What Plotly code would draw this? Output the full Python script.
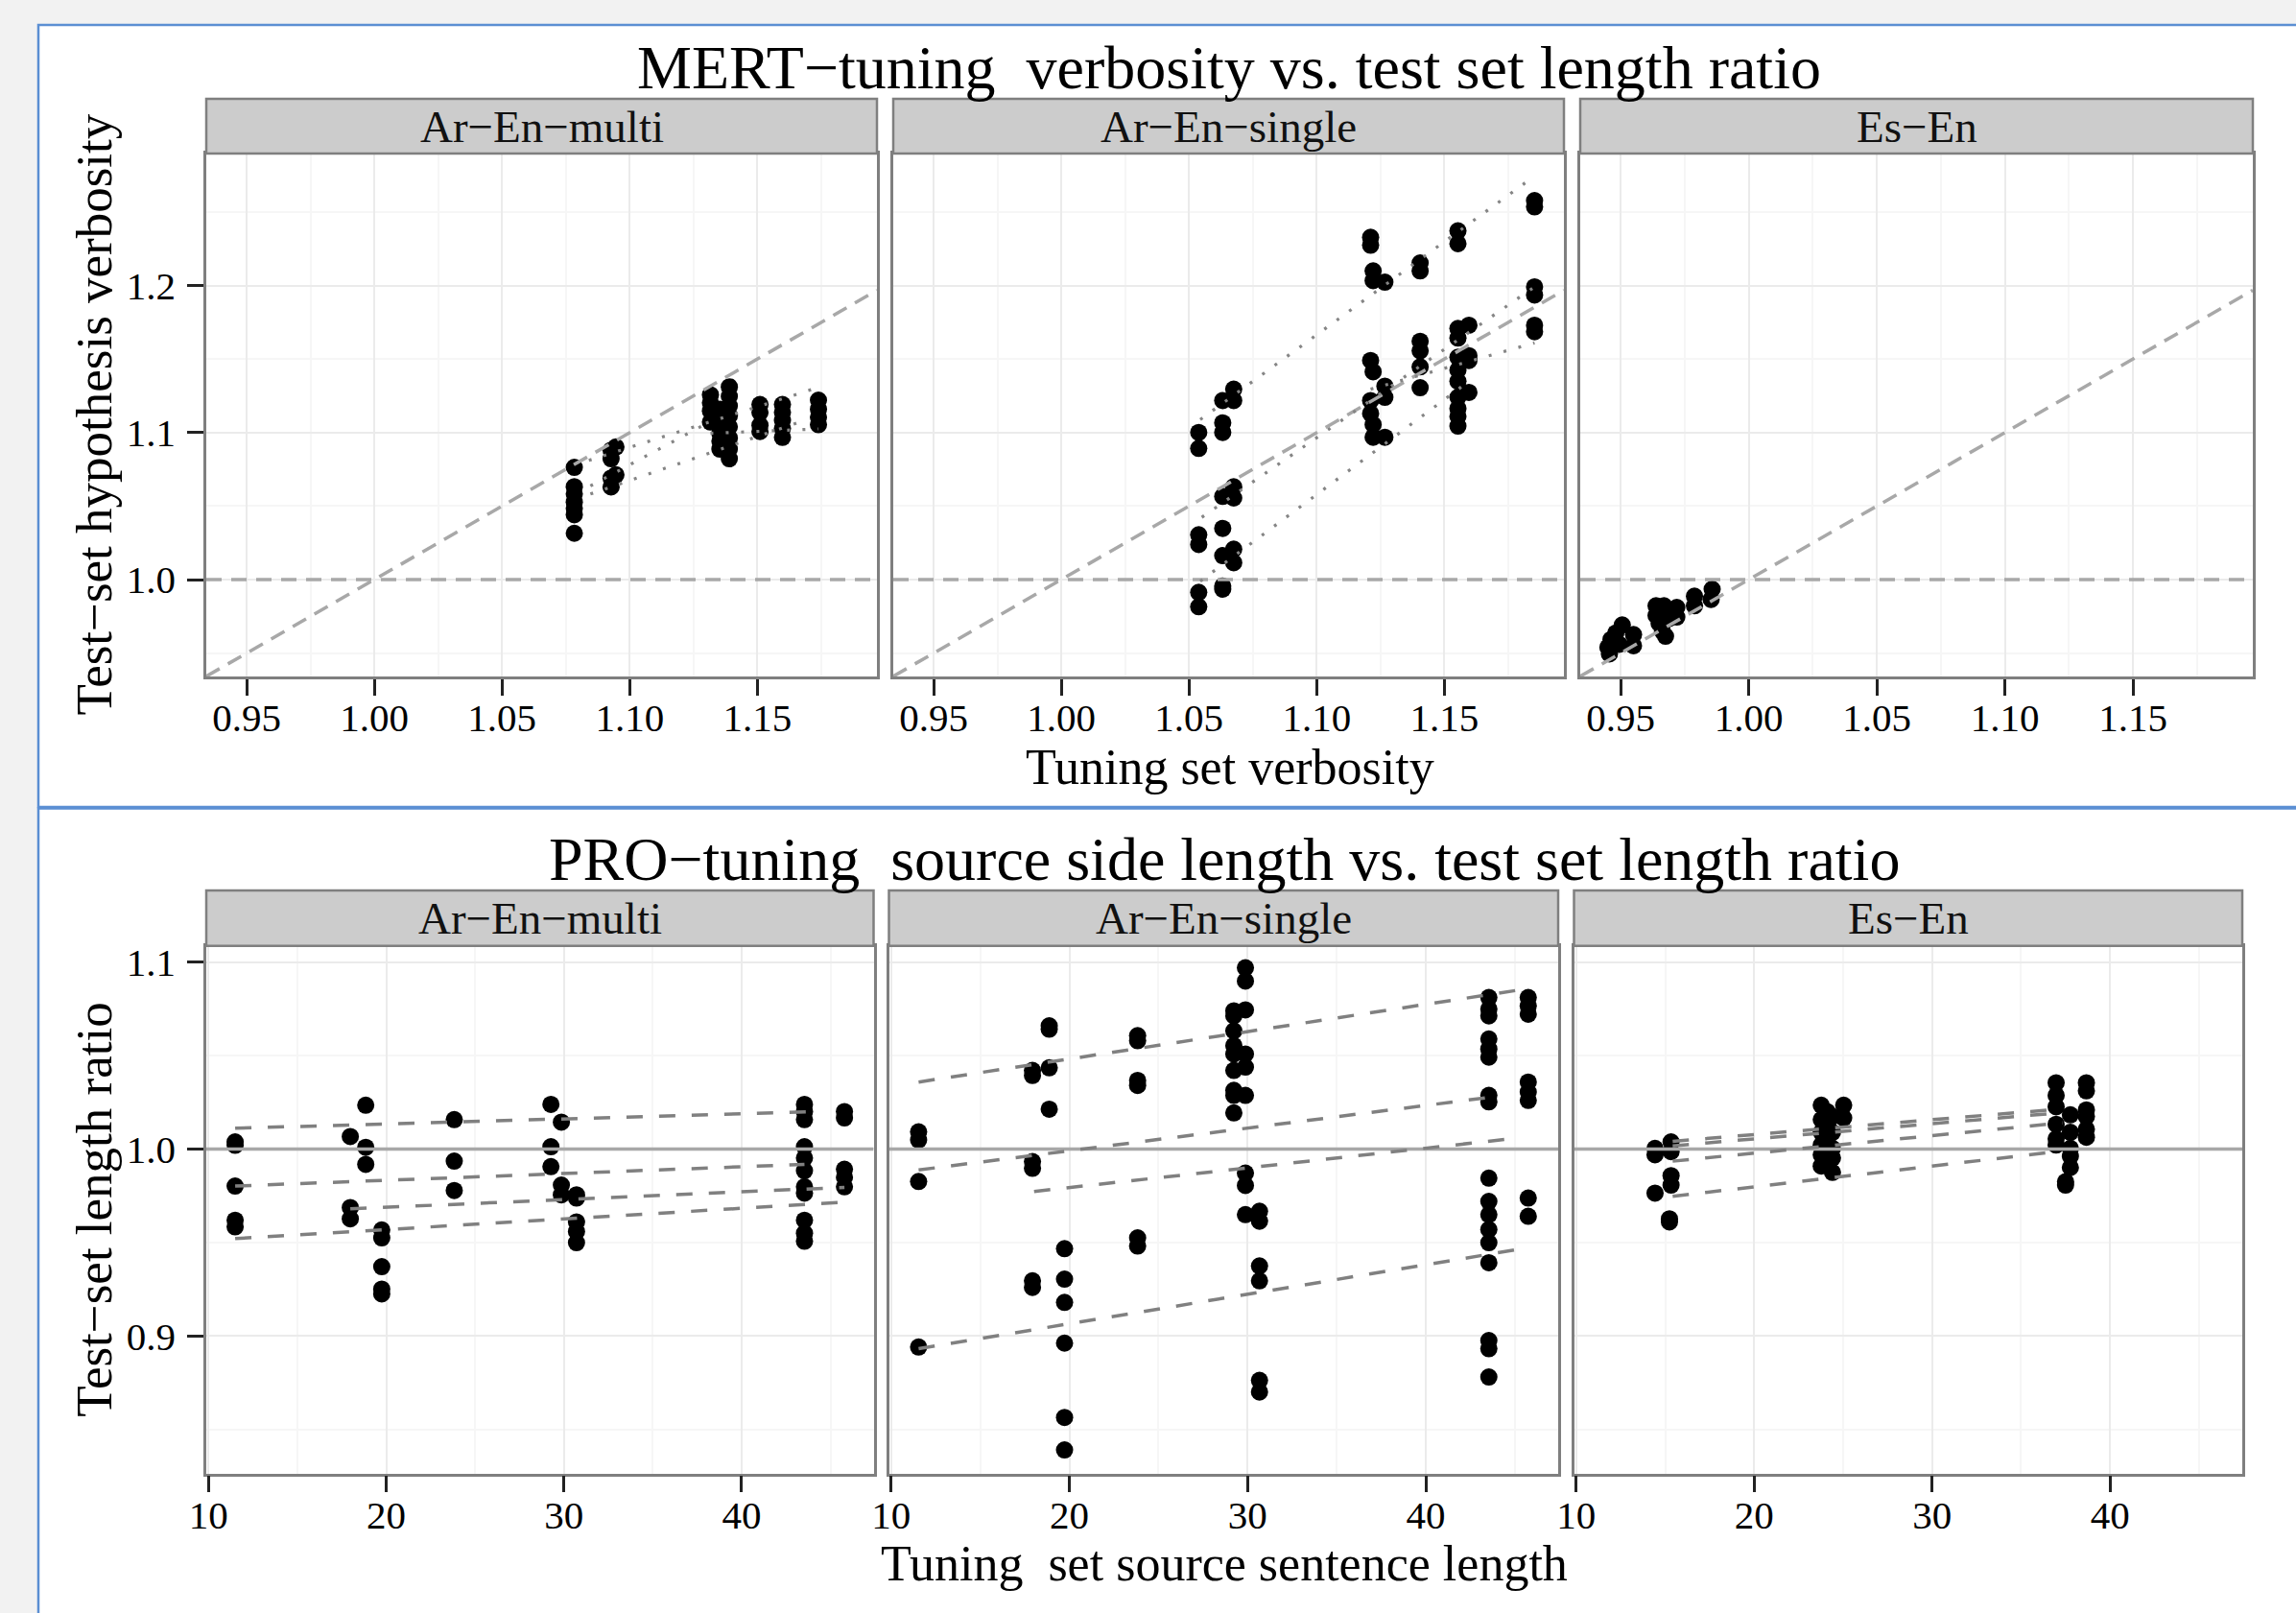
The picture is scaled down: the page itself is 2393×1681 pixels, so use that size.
import plotly.graph_objects as go

# ---------------- data ----------------
PANEL_NAMES = ["Ar\u2212En\u2212multi", "Ar\u2212En\u2212single", "Es\u2212En"]

# MERT: tuning set verbosity (x) vs test-set hypothesis verbosity (y); columns (x, [y...])
MERT_MULTI = [
    (1.0783, [1.0763, 1.0632, 1.0582, 1.0528, 1.0484, 1.0441, 1.0315]),
    (1.0927, [1.0880, 1.0822, 1.0691, 1.0630]),
    (1.0946, [1.0902, 1.0713]),
    (1.1316, [1.1257, 1.1202, 1.1148, 1.1072]),
    (1.1353, [1.1159, 1.1083, 1.0996, 1.0941, 1.0887]),
    (1.1390, [1.1311, 1.1246, 1.1181, 1.1115, 1.1039, 1.0963, 1.0887, 1.0822]),
    (1.1510, [1.1191, 1.1137, 1.1050, 1.1007]),
    (1.1598, [1.1191, 1.1137, 1.1083, 1.1028, 1.0967]),
    (1.1739, [1.1220, 1.1159, 1.1104, 1.1054]),
]
MERT_SINGLE = [
    (1.0538, [1.1001, 1.0892, 1.0305, 1.0239, 0.9913, 0.9815]),
    (1.0632, [1.1218, 1.1066, 1.1001, 1.0566, 1.0348, 1.0163, 0.9956, 0.9935]),
    (1.0675, [1.1295, 1.1218, 1.0631, 1.0555, 1.0207, 1.0115]),
    (1.1211, [1.2328, 1.2274, 1.1490, 1.1218, 1.1130]),
    (1.1221, [1.2100, 1.2034, 1.1414, 1.1055, 1.0968]),
    (1.1267, [1.2023, 1.1316, 1.1240, 1.0968]),
    (1.1405, [1.2154, 1.2100, 1.1621, 1.1556, 1.1447, 1.1305]),
    (1.1553, [1.2372, 1.2285, 1.1708, 1.1643, 1.1512, 1.1425, 1.1349, 1.1240, 1.1164, 1.1110, 1.1044]),
    (1.1596, [1.1730, 1.1523, 1.1490, 1.1273]),
    (1.1853, [1.2578, 1.2535, 1.1991, 1.1936, 1.1730, 1.1686]),
]
MERT_ESEN = [
    (0.9456, [0.9495]), (0.9450, [0.9539]), (0.9462, [0.9593]), (0.9481, [0.9637]),
    (0.9506, [0.9691]), (0.9494, [0.9560]), (0.9550, [0.9626, 0.9550]),
    (0.9638, [0.9822, 0.9756]), (0.9669, [0.9822]), (0.9650, [0.9702]),
    (0.9663, [0.9648]), (0.9675, [0.9615]), (0.9688, [0.9735]), (0.9700, [0.9778]),
    (0.9719, [0.9811, 0.9745]), (0.9788, [0.9887, 0.9822]), (0.9857, [0.9935]), (0.9853, [0.9865]),
]
# per-group linear fits (x0, y0, x1, y1)
MERT_MULTI_FIT = [(1.0840, 1.0811, 1.1729, 1.1302), (1.0846, 1.0637, 1.1316, 1.1076),
                  (1.0846, 1.0582, 1.1654, 1.1065), (1.1316, 1.0995, 1.1739, 1.1025)]
MERT_SINGLE_FIT = [(1.0544, 1.1088, 1.1816, 1.2698), (1.0550, 1.0424, 1.1853, 1.1991),
                   (1.0544, 0.9989, 1.1596, 1.1349), (1.1211, 1.1295, 1.1853, 1.1610)]
MERT_ESEN_FIT = []

# PRO: tuning set source sentence length (x) vs test-set length ratio (y)
PRO_MULTI = [
    (11.50, [1.0038, 1.0020, 0.9802, 0.9619, 0.9584]),
    (17.98, [1.0067, 0.9687, 0.9627]),
    (18.85, [1.0234, 1.0009, 0.9918]),
    (19.75, [0.9567, 0.9525, 0.9371, 0.9251, 0.9225]),
    (23.83, [1.0157, 0.9935, 0.9778]),
    (29.27, [1.0239, 1.0012, 0.9906]),
    (29.86, [1.0144, 0.9807, 0.9755]),
    (30.71, [0.9755, 0.9738, 0.9610, 0.9559, 0.9499]),
    (43.54, [1.0239, 1.0200, 1.0157, 1.0012, 0.9952, 0.9884, 0.9798, 0.9764, 0.9619, 0.9550, 0.9507]),
    (45.79, [1.0200, 1.0166, 0.9892, 0.9849, 0.9798]),
]
PRO_SINGLE = [
    (11.54, [1.0092, 1.0048, 0.9826, 0.8941]),
    (17.93, [1.0420, 1.0393, 0.9933, 0.9897, 0.9295, 0.9260]),
    (18.87, [1.0659, 1.0641, 1.0434, 1.0213]),
    (19.73, [0.9467, 0.9304, 0.9180, 0.8962, 0.8565, 0.8391]),
    (23.83, [1.0606, 1.0579, 1.0367, 1.0340, 0.9525, 0.9481]),
    (29.23, [1.0739, 1.0712, 1.0632, 1.0553, 1.0508, 1.0420, 1.0314, 1.0287, 1.0193]),
    (29.88, [1.0969, 1.0898, 1.0744, 1.0508, 1.0438, 1.0287, 0.9871, 0.9805, 0.9649]),
    (30.67, [0.9667, 0.9614, 0.9375, 0.9295, 0.8763, 0.8701]),
    (43.54, [1.0810, 1.0748, 1.0712, 1.0588, 1.0535, 1.0491, 1.0287, 1.0252, 0.9844, 0.9720,
             0.9649, 0.9570, 0.9499, 0.9392, 0.8976, 0.8932, 0.8781]),
    (45.75, [1.0810, 1.0765, 1.0721, 1.0358, 1.0305, 1.0260, 0.9738, 0.9640]),
]
PRO_ESEN = [
    (14.43, [1.0003, 0.9969, 0.9764]),
    (15.33, [1.0038, 0.9986, 0.9858, 0.9807]),
    (15.24, [0.9627, 0.9610]),
    (23.77, [1.0234, 1.0157, 1.0089, 1.0021, 0.9969, 0.9909]),
    (24.10, [1.0200, 1.0120, 1.0050, 0.9930]),
    (24.40, [1.0174, 1.0089, 1.0003, 0.9952, 0.9875]),
    (25.03, [1.0234, 1.0166]),
    (36.97, [1.0354, 1.0286, 1.0226, 1.0132, 1.0055, 1.0021]),
    (37.50, [0.9825, 0.9807]),
    (37.77, [1.0183, 1.0089, 1.0003, 0.9961, 0.9901]),
    (38.67, [1.0354, 1.0311, 1.0209, 1.0174, 1.0106, 1.0063]),
]
PRO_MULTI_FIT = [(11.50, 1.0111, 44.35, 1.0200), (11.50, 0.9802, 43.54, 0.9918),
                 (17.98, 0.9680, 45.79, 0.9795), (11.50, 0.9521, 45.79, 0.9716)]
PRO_SINGLE_FIT = [(11.54, 1.0358, 45.70, 1.0857), (11.54, 0.9888, 43.54, 1.0276),
                  (18.02, 0.9773, 44.98, 1.0057), (11.54, 0.8932, 45.75, 0.9472)]
PRO_ESEN_FIT = [(15.42, 1.0041, 36.97, 1.0212), (15.42, 1.0017, 36.97, 1.0192),
                (15.42, 0.9935, 37.33, 1.0140), (15.42, 0.9747, 36.97, 0.9986)]

# axes
MERT_XRANGE = [0.9342, 1.1968]
MERT_YRANGE = [0.9341, 1.2898]
MERT_XTICKS = [0.95, 1.00, 1.05, 1.10, 1.15]
MERT_XTICKTEXT = ["0.95", "1.00", "1.05", "1.10", "1.15"]
MERT_XMINOR = [0.975, 1.025, 1.075, 1.125, 1.175]
MERT_YTICKS = [1.0, 1.1, 1.2]
MERT_YTICKTEXT = ["1.0", "1.1", "1.2"]
MERT_YMINOR = [0.95, 1.05, 1.15, 1.25]

PRO_XRANGE = [9.876, 47.43]
PRO_YRANGE = [0.8265, 1.1086]
PRO_XTICKS = [10, 20, 30, 40]
PRO_XTICKTEXT = ["10", "20", "30", "40"]
PRO_XMINOR = [15, 25, 35, 45]
PRO_YTICKS = [0.9, 1.0, 1.1]
PRO_YTICKTEXT = ["0.9", "1.0", "1.1"]
PRO_YMINOR = [0.85, 0.95, 1.05]

TITLE_TOP = "MERT\u2212tuning\u00a0 verbosity vs. test set length ratio"
TITLE_BOT = "PRO\u2212tuning\u00a0 source side length vs. test set length ratio"
XTITLE_TOP = "Tuning set verbosity"
XTITLE_BOT = "Tuning\u00a0 set source sentence length"
YTITLE_TOP = "Test\u2212set hypothesis verbosity"
YTITLE_BOT = "Test\u2212set length ratio"

# ---------------- layout geometry (pixels) ----------------
W, H = 2393, 1681
FONT = "Liberation Serif"
TOP_COLS = [(215, 914), (931, 1630), (1647, 2348)]
TOP_ROWS = (160, 705)
TOP_STRIP = (103, 160)
BOT_COLS = [(215, 910.5), (926.5, 1624), (1640.5, 2337)]
BOT_ROWS = (985.8, 1535.6)
BOT_STRIP = (928, 985.8)


def px(x):
    return x / W


def py(y):
    return 1 - y / H


fig = go.Figure()
layout = dict(
    width=W, height=H, margin=dict(l=0, r=0, t=0, b=0, pad=0, autoexpand=False), autosize=False,
    paper_bgcolor="#f2f2f2", plot_bgcolor="white", showlegend=False,
    font=dict(family=FONT, color="black"),
)
shapes = []
annotations = []

# page frames
FRAME = "#5b8fd3"
shapes.append(dict(type="rect", xref="paper", yref="paper", x0=px(40), x1=1.02,
                   y0=py(841), y1=py(26), fillcolor="white", line=dict(color=FRAME, width=2.5),
                   layer="below"))
shapes.append(dict(type="rect", xref="paper", yref="paper", x0=px(40), x1=1.02,
                   y0=-0.02, y1=py(842.5), fillcolor="white", line=dict(color=FRAME, width=2.5),
                   layer="below"))


def axis_common(rng, tickvals, ticktext, minor, show_labels, is_x):
    return dict(
        range=rng, tickmode="array", tickvals=tickvals, ticktext=ticktext,
        ticks="outside" if show_labels else "", ticklen=17, tickwidth=3, tickcolor="#222222",
        showticklabels=show_labels, tickfont=dict(family=FONT, size=41, color="black"),
        ticklabelstandoff=(-12 if is_x else 4), automargin=False,
        showline=True, mirror=True, linecolor="#7f7f7f", linewidth=2.5,
        showgrid=True, gridcolor="#ebebeb", gridwidth=2, zeroline=False,
        minor=dict(tickmode="array", tickvals=minor, showgrid=True, gridcolor="#f6f6f6",
                   gridwidth=2, ticks=""),
        fixedrange=True,
    )


rows = [
    dict(cols=TOP_COLS, rows=TOP_ROWS, strip=TOP_STRIP, xr=MERT_XRANGE, yr=MERT_YRANGE,
         xt=(MERT_XTICKS, MERT_XTICKTEXT, MERT_XMINOR), yt=(MERT_YTICKS, MERT_YTICKTEXT, MERT_YMINOR),
         data=[MERT_MULTI, MERT_SINGLE, MERT_ESEN], fits=[MERT_MULTI_FIT, MERT_SINGLE_FIT, MERT_ESEN_FIT],
         kind="mert"),
    dict(cols=BOT_COLS, rows=BOT_ROWS, strip=BOT_STRIP, xr=PRO_XRANGE, yr=PRO_YRANGE,
         xt=(PRO_XTICKS, PRO_XTICKTEXT, PRO_XMINOR), yt=(PRO_YTICKS, PRO_YTICKTEXT, PRO_YMINOR),
         data=[PRO_MULTI, PRO_SINGLE, PRO_ESEN], fits=[PRO_MULTI_FIT, PRO_SINGLE_FIT, PRO_ESEN_FIT],
         kind="pro"),
]

idx = 0
for r in rows:
    for c, (x0p, x1p) in enumerate(r["cols"]):
        idx += 1
        sfx = "" if idx == 1 else str(idx)
        xa = axis_common(r["xr"], *r["xt"], True, True)
        xa.update(domain=[px(x0p), px(x1p)], anchor="y" + sfx)
        ya = axis_common(r["yr"], *r["yt"], c == 0, False)
        ya.update(domain=[py(r["rows"][1]), py(r["rows"][0])], anchor="x" + sfx)
        layout["xaxis" + sfx] = xa
        layout["yaxis" + sfx] = ya
        xref, yref = "x" + sfx, "y" + sfx

        # strip
        shapes.append(dict(type="rect", xref="paper", yref="paper", x0=px(x0p), x1=px(x1p),
                           y0=py(r["strip"][1]), y1=py(r["strip"][0]), fillcolor="#cccccc",
                           line=dict(color="#7f7f7f", width=2.5)))
        annotations.append(dict(xref="paper", yref="paper", x=px((x0p + x1p) / 2),
                                y=py((r["strip"][0] + r["strip"][1]) / 2), text=PANEL_NAMES[c],
                                showarrow=False, xanchor="center", yanchor="middle",
                                font=dict(family=FONT, size=47, color="#111111")))

        # points
        xs, ys = [], []
        for xv, yl in r["data"][c]:
            for yv in yl:
                xs.append(xv)
                ys.append(yv)
        fig.add_trace(go.Scatter(x=xs, y=ys, mode="markers", xaxis=xref, yaxis=yref,
                                 marker=dict(size=18, color="black", line=dict(width=0)),
                                 hoverinfo="skip"))

        # reference lines
        xr = r["xr"]
        if r["kind"] == "mert":
            fig.add_trace(go.Scatter(x=xr, y=[1.0, 1.0], mode="lines", xaxis=xref, yaxis=yref,
                                     line=dict(color="#a8a8a8", width=3.5, dash="16px,10px"),
                                     hoverinfo="skip"))
            fig.add_trace(go.Scatter(x=xr, y=xr, mode="lines", xaxis=xref, yaxis=yref,
                                     line=dict(color="#a8a8a8", width=3.5, dash="16px,10px"),
                                     hoverinfo="skip"))
            for (fx0, fy0, fx1, fy1) in r["fits"][c]:
                fig.add_trace(go.Scatter(x=[fx0, fx1], y=[fy0, fy1], mode="lines", xaxis=xref,
                                         yaxis=yref, line=dict(color="#858585", width=3.2,
                                                               dash="3px,13px"),
                                         hoverinfo="skip"))
        else:
            fig.add_trace(go.Scatter(x=xr, y=[1.0, 1.0], mode="lines", xaxis=xref, yaxis=yref,
                                     line=dict(color="#a8a8a8", width=3.5), hoverinfo="skip"))
            for (fx0, fy0, fx1, fy1) in r["fits"][c]:
                fig.add_trace(go.Scatter(x=[fx0, fx1], y=[fy0, fy1], mode="lines", xaxis=xref,
                                         yaxis=yref, line=dict(color="#808080", width=3.5,
                                                               dash="17px,17px"),
                                         hoverinfo="skip"))

# titles
annotations += [
    dict(xref="paper", yref="paper", x=px(1281), y=py(70), text=TITLE_TOP, showarrow=False,
         xanchor="center", yanchor="middle", font=dict(family=FONT, size=64, color="black")),
    dict(xref="paper", yref="paper", x=px(1276), y=py(895), text=TITLE_BOT, showarrow=False,
         xanchor="center", yanchor="middle", font=dict(family=FONT, size=64, color="black")),
    dict(xref="paper", yref="paper", x=px(1282), y=py(799), text=XTITLE_TOP, showarrow=False,
         xanchor="center", yanchor="middle", font=dict(family=FONT, size=52, color="black")),
    dict(xref="paper", yref="paper", x=px(1276), y=py(1629), text=XTITLE_BOT, showarrow=False,
         xanchor="center", yanchor="middle", font=dict(family=FONT, size=52, color="black")),
    dict(xref="paper", yref="paper", x=px(98), y=py(432.5), text=YTITLE_TOP, showarrow=False,
         textangle=-90, xanchor="center", yanchor="middle",
         font=dict(family=FONT, size=53, color="black")),
    dict(xref="paper", yref="paper", x=px(98), y=py(1260.7), text=YTITLE_BOT, showarrow=False,
         textangle=-90, xanchor="center", yanchor="middle",
         font=dict(family=FONT, size=53, color="black")),
]

layout["shapes"] = shapes
layout["annotations"] = annotations
fig.update_layout(**layout)
fig.write_html("out.html", config={"displayModeBar": False},
               post_script="document.body.style.margin='0px';document.body.style.overflow='hidden';")
